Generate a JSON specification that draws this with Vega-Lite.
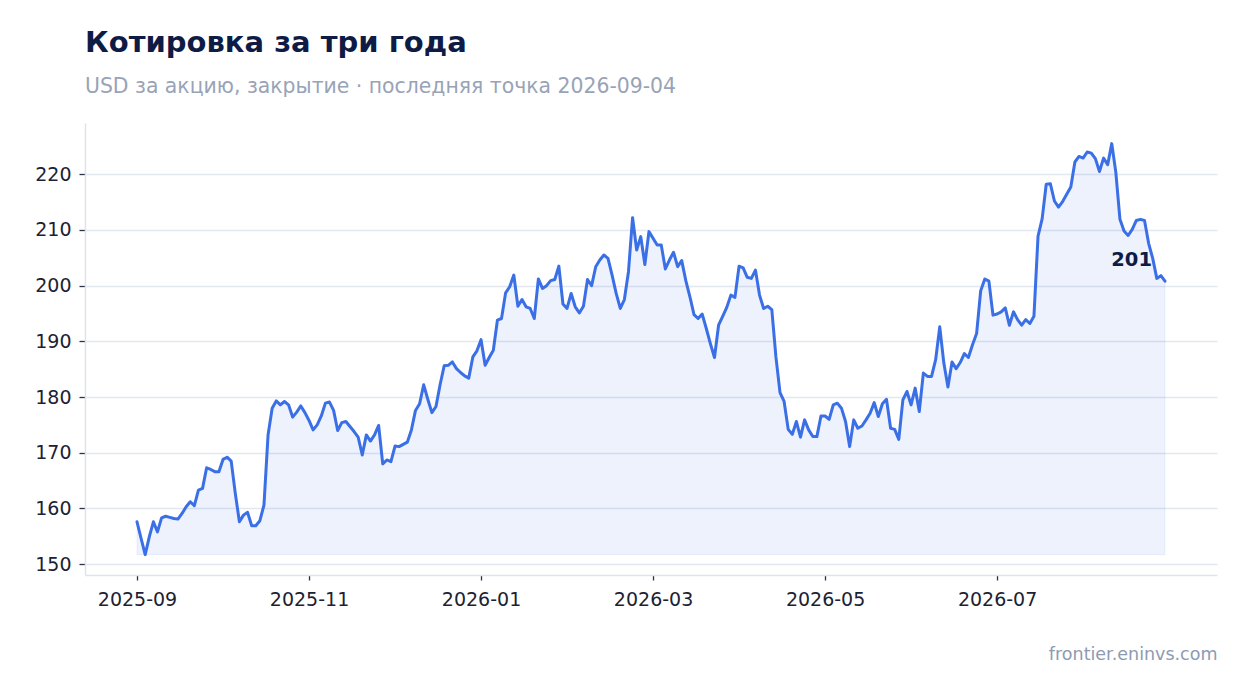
{
  "$schema": "https://vega.github.io/schema/vega-lite/v6.json",
  "width": 1132,
  "height": 452,
  "autosize": {"type": "none"},
  "padding": {"left": 85, "top": 123, "right": 30, "bottom": 118},
  "background": "white",
  "title": {
    "text": "Котировка за три года",
    "subtitle": "USD за акцию, закрытие · последняя точка 2026-09-04",
    "anchor": "start",
    "frame": "group",
    "font": "DejaVu Sans",
    "fontSize": 29,
    "fontWeight": "bold",
    "color": "#0e1c45",
    "subtitleFont": "DejaVu Sans",
    "subtitleFontSize": 20.4,
    "subtitleColor": "#98a3b7",
    "subtitlePadding": 19.5,
    "offset": 25.4
  },
  "config": {"view": {"stroke": null}, "font": "DejaVu Sans"},
  "datasets": {"prices": [
    {"date": "2025-09-18", "close": 157.6}, {"date": "2025-09-19", "close": 154.6}, {"date": "2025-09-22", "close": 151.7}, {"date": "2025-09-23", "close": 154.9}, {"date": "2025-09-24", "close": 157.6}, {"date": "2025-09-25", "close": 155.8}, {"date": "2025-09-26", "close": 158.3}, {"date": "2025-09-29", "close": 158.6}, {"date": "2025-09-30", "close": 158.4},
    {"date": "2025-10-01", "close": 158.2}, {"date": "2025-10-02", "close": 158.1}, {"date": "2025-10-03", "close": 159.1}, {"date": "2025-10-06", "close": 160.3}, {"date": "2025-10-07", "close": 161.2}, {"date": "2025-10-08", "close": 160.5}, {"date": "2025-10-09", "close": 163.3}, {"date": "2025-10-10", "close": 163.6}, {"date": "2025-10-13", "close": 167.3}, {"date": "2025-10-14", "close": 167.0}, {"date": "2025-10-15", "close": 166.6}, {"date": "2025-10-16", "close": 166.6}, {"date": "2025-10-17", "close": 168.8}, {"date": "2025-10-20", "close": 169.2}, {"date": "2025-10-21", "close": 168.5}, {"date": "2025-10-22", "close": 162.7}, {"date": "2025-10-23", "close": 157.6}, {"date": "2025-10-24", "close": 158.8}, {"date": "2025-10-27", "close": 159.3}, {"date": "2025-10-28", "close": 156.9}, {"date": "2025-10-29", "close": 156.9}, {"date": "2025-10-30", "close": 157.8}, {"date": "2025-10-31", "close": 160.6},
    {"date": "2025-11-03", "close": 173.2}, {"date": "2025-11-04", "close": 178.0}, {"date": "2025-11-05", "close": 179.3}, {"date": "2025-11-06", "close": 178.6}, {"date": "2025-11-07", "close": 179.2}, {"date": "2025-11-10", "close": 178.6}, {"date": "2025-11-11", "close": 176.4}, {"date": "2025-11-12", "close": 177.3}, {"date": "2025-11-13", "close": 178.4}, {"date": "2025-11-14", "close": 177.2}, {"date": "2025-11-17", "close": 175.8}, {"date": "2025-11-18", "close": 174.1}, {"date": "2025-11-19", "close": 175.0}, {"date": "2025-11-20", "close": 176.6}, {"date": "2025-11-21", "close": 178.9}, {"date": "2025-11-24", "close": 179.1}, {"date": "2025-11-25", "close": 177.6}, {"date": "2025-11-26", "close": 174.0}, {"date": "2025-11-27", "close": 175.4}, {"date": "2025-11-28", "close": 175.6},
    {"date": "2025-12-01", "close": 174.7}, {"date": "2025-12-02", "close": 173.8}, {"date": "2025-12-03", "close": 172.8}, {"date": "2025-12-04", "close": 169.6}, {"date": "2025-12-05", "close": 173.2}, {"date": "2025-12-08", "close": 172.1}, {"date": "2025-12-09", "close": 173.2}, {"date": "2025-12-10", "close": 174.9}, {"date": "2025-12-11", "close": 168.0}, {"date": "2025-12-12", "close": 168.7}, {"date": "2025-12-15", "close": 168.4}, {"date": "2025-12-16", "close": 171.2}, {"date": "2025-12-17", "close": 171.1}, {"date": "2025-12-18", "close": 171.5}, {"date": "2025-12-19", "close": 171.9}, {"date": "2025-12-22", "close": 174.1}, {"date": "2025-12-23", "close": 177.6}, {"date": "2025-12-24", "close": 178.8}, {"date": "2025-12-25", "close": 182.2}, {"date": "2025-12-26", "close": 179.6}, {"date": "2025-12-29", "close": 177.2}, {"date": "2025-12-30", "close": 178.3}, {"date": "2025-12-31", "close": 182.2},
    {"date": "2026-01-01", "close": 185.6}, {"date": "2026-01-02", "close": 185.7}, {"date": "2026-01-05", "close": 186.3}, {"date": "2026-01-06", "close": 185.1}, {"date": "2026-01-07", "close": 184.4}, {"date": "2026-01-08", "close": 183.8}, {"date": "2026-01-09", "close": 183.4}, {"date": "2026-01-12", "close": 187.2}, {"date": "2026-01-13", "close": 188.3}, {"date": "2026-01-14", "close": 190.3}, {"date": "2026-01-15", "close": 185.7}, {"date": "2026-01-16", "close": 187.1}, {"date": "2026-01-19", "close": 188.4}, {"date": "2026-01-20", "close": 193.8}, {"date": "2026-01-21", "close": 194.1}, {"date": "2026-01-22", "close": 198.7}, {"date": "2026-01-23", "close": 199.8}, {"date": "2026-01-26", "close": 201.9}, {"date": "2026-01-27", "close": 196.3}, {"date": "2026-01-28", "close": 197.5}, {"date": "2026-01-29", "close": 196.2}, {"date": "2026-01-30", "close": 195.9},
    {"date": "2026-02-02", "close": 194.1}, {"date": "2026-02-03", "close": 201.2}, {"date": "2026-02-04", "close": 199.5}, {"date": "2026-02-05", "close": 200.0}, {"date": "2026-02-06", "close": 200.9}, {"date": "2026-02-09", "close": 201.1}, {"date": "2026-02-10", "close": 203.5}, {"date": "2026-02-11", "close": 196.7}, {"date": "2026-02-12", "close": 195.9}, {"date": "2026-02-13", "close": 198.6}, {"date": "2026-02-16", "close": 196.2}, {"date": "2026-02-17", "close": 195.1}, {"date": "2026-02-18", "close": 196.3}, {"date": "2026-02-19", "close": 201.1}, {"date": "2026-02-20", "close": 200.0}, {"date": "2026-02-23", "close": 203.4}, {"date": "2026-02-24", "close": 204.6}, {"date": "2026-02-25", "close": 205.5}, {"date": "2026-02-26", "close": 204.9}, {"date": "2026-02-27", "close": 201.9},
    {"date": "2026-03-02", "close": 198.6}, {"date": "2026-03-03", "close": 195.9}, {"date": "2026-03-04", "close": 197.5}, {"date": "2026-03-05", "close": 202.5}, {"date": "2026-03-06", "close": 212.2}, {"date": "2026-03-09", "close": 206.4}, {"date": "2026-03-10", "close": 208.8}, {"date": "2026-03-11", "close": 203.8}, {"date": "2026-03-12", "close": 209.7}, {"date": "2026-03-13", "close": 208.5}, {"date": "2026-03-16", "close": 207.3}, {"date": "2026-03-17", "close": 207.3}, {"date": "2026-03-18", "close": 203.0}, {"date": "2026-03-19", "close": 204.6}, {"date": "2026-03-20", "close": 206.0}, {"date": "2026-03-23", "close": 203.4}, {"date": "2026-03-24", "close": 204.5}, {"date": "2026-03-25", "close": 200.9}, {"date": "2026-03-26", "close": 198.0}, {"date": "2026-03-27", "close": 194.8}, {"date": "2026-03-30", "close": 194.1}, {"date": "2026-03-31", "close": 194.9},
    {"date": "2026-04-01", "close": 192.3}, {"date": "2026-04-02", "close": 189.6}, {"date": "2026-04-03", "close": 187.1}, {"date": "2026-04-06", "close": 192.9}, {"date": "2026-04-07", "close": 194.5}, {"date": "2026-04-08", "close": 196.1}, {"date": "2026-04-09", "close": 198.3}, {"date": "2026-04-10", "close": 197.9}, {"date": "2026-04-13", "close": 203.5}, {"date": "2026-04-14", "close": 203.2}, {"date": "2026-04-15", "close": 201.5}, {"date": "2026-04-16", "close": 201.3}, {"date": "2026-04-17", "close": 202.8}, {"date": "2026-04-20", "close": 198.3}, {"date": "2026-04-21", "close": 195.9}, {"date": "2026-04-22", "close": 196.3}, {"date": "2026-04-23", "close": 195.7}, {"date": "2026-04-24", "close": 187.2}, {"date": "2026-04-27", "close": 180.8}, {"date": "2026-04-28", "close": 179.2}, {"date": "2026-04-29", "close": 174.2}, {"date": "2026-04-30", "close": 173.3},
    {"date": "2026-05-01", "close": 175.6}, {"date": "2026-05-04", "close": 172.8}, {"date": "2026-05-05", "close": 175.9}, {"date": "2026-05-06", "close": 174.1}, {"date": "2026-05-07", "close": 172.9}, {"date": "2026-05-08", "close": 172.9}, {"date": "2026-05-11", "close": 176.6}, {"date": "2026-05-12", "close": 176.6}, {"date": "2026-05-13", "close": 176.0}, {"date": "2026-05-14", "close": 178.6}, {"date": "2026-05-15", "close": 178.9}, {"date": "2026-05-18", "close": 178.0}, {"date": "2026-05-19", "close": 175.6}, {"date": "2026-05-20", "close": 171.1}, {"date": "2026-05-21", "close": 175.9}, {"date": "2026-05-22", "close": 174.4}, {"date": "2026-05-25", "close": 174.8}, {"date": "2026-05-26", "close": 175.9}, {"date": "2026-05-27", "close": 177.1}, {"date": "2026-05-28", "close": 179.0}, {"date": "2026-05-29", "close": 176.5},
    {"date": "2026-06-01", "close": 178.8}, {"date": "2026-06-02", "close": 179.6}, {"date": "2026-06-03", "close": 174.4}, {"date": "2026-06-04", "close": 174.2}, {"date": "2026-06-05", "close": 172.4}, {"date": "2026-06-08", "close": 179.5}, {"date": "2026-06-09", "close": 181.0}, {"date": "2026-06-10", "close": 178.6}, {"date": "2026-06-11", "close": 181.6}, {"date": "2026-06-12", "close": 177.4}, {"date": "2026-06-15", "close": 184.3}, {"date": "2026-06-16", "close": 183.7}, {"date": "2026-06-17", "close": 183.7}, {"date": "2026-06-18", "close": 186.7}, {"date": "2026-06-19", "close": 192.6}, {"date": "2026-06-22", "close": 186.1}, {"date": "2026-06-23", "close": 181.8}, {"date": "2026-06-24", "close": 186.3}, {"date": "2026-06-25", "close": 185.1}, {"date": "2026-06-26", "close": 186.2}, {"date": "2026-06-29", "close": 187.8}, {"date": "2026-06-30", "close": 187.1},
    {"date": "2026-07-01", "close": 189.4}, {"date": "2026-07-02", "close": 191.4}, {"date": "2026-07-03", "close": 199.1}, {"date": "2026-07-06", "close": 201.2}, {"date": "2026-07-07", "close": 200.8}, {"date": "2026-07-08", "close": 194.7}, {"date": "2026-07-09", "close": 194.9}, {"date": "2026-07-10", "close": 195.3}, {"date": "2026-07-13", "close": 196.0}, {"date": "2026-07-14", "close": 192.9}, {"date": "2026-07-15", "close": 195.3}, {"date": "2026-07-16", "close": 193.9}, {"date": "2026-07-17", "close": 192.9}, {"date": "2026-07-20", "close": 193.9}, {"date": "2026-07-21", "close": 193.2}, {"date": "2026-07-22", "close": 194.5}, {"date": "2026-07-23", "close": 208.9}, {"date": "2026-07-24", "close": 212.0}, {"date": "2026-07-27", "close": 218.2}, {"date": "2026-07-28", "close": 218.3}, {"date": "2026-07-29", "close": 215.2}, {"date": "2026-07-30", "close": 214.1}, {"date": "2026-07-31", "close": 215.1},
    {"date": "2026-08-03", "close": 216.4}, {"date": "2026-08-04", "close": 217.7}, {"date": "2026-08-05", "close": 222.2}, {"date": "2026-08-06", "close": 223.2}, {"date": "2026-08-07", "close": 222.9}, {"date": "2026-08-10", "close": 224.0}, {"date": "2026-08-11", "close": 223.8}, {"date": "2026-08-12", "close": 222.8}, {"date": "2026-08-13", "close": 220.5}, {"date": "2026-08-14", "close": 222.9}, {"date": "2026-08-17", "close": 221.7}, {"date": "2026-08-18", "close": 225.5}, {"date": "2026-08-19", "close": 220.3}, {"date": "2026-08-20", "close": 211.9}, {"date": "2026-08-21", "close": 209.8}, {"date": "2026-08-24", "close": 209.0}, {"date": "2026-08-25", "close": 210.1}, {"date": "2026-08-26", "close": 211.7}, {"date": "2026-08-27", "close": 211.9}, {"date": "2026-08-28", "close": 211.7}, {"date": "2026-08-31", "close": 207.6},
    {"date": "2026-09-01", "close": 204.9}, {"date": "2026-09-02", "close": 201.3}, {"date": "2026-09-03", "close": 201.8}, {"date": "2026-09-04", "close": 200.8}
  ]},
  "data": {"name": "prices"},
  "transform": [
    {"window": [{"op": "row_number", "as": "n"}], "sort": [{"field": "date", "order": "ascending"}]},
    {"joinaggregate": [{"op": "min", "field": "close", "as": "lo"}, {"op": "max", "field": "n", "as": "last"}]}
  ],
  "encoding": {
    "x": {
      "field": "n",
      "type": "quantitative",
      "scale": {"domain": [1, 252], "padding": 52, "nice": false, "zero": false},
      "axis": {
        "values": [1, 43, 85, 127, 169, 211],
        "labelExpr": "slice(data('prices')[datum.value - 1].date, 0, 7)",
        "labelAngle": 0,
        "labelFont": "DejaVu Sans",
        "labelFontSize": 19,
        "labelColor": "#1c2233",
        "labelPadding": 10,
        "tickSize": 5,
        "tickColor": "#2b3245",
        "tickWidth": 1.3,
        "domainColor": "#dfe3ea",
        "domainWidth": 1.5,
        "grid": false,
        "title": "frontier.eninvs.com",
        "titleAnchor": "end",
        "titleAlign": "right",
        "titleFont": "DejaVu Sans",
        "titleFontSize": 17.5,
        "titleFontWeight": "normal",
        "titleColor": "#8e9ab0",
        "titlePadding": 36
      }
    },
    "y": {
      "field": "close",
      "type": "quantitative",
      "scale": {"domain": [148.05, 229.2], "nice": false, "zero": false},
      "axis": {
        "values": [150, 160, 170, 180, 190, 200, 210, 220],
        "title": null,
        "labelFont": "DejaVu Sans",
        "labelFontSize": 19,
        "labelColor": "#1c2233",
        "labelPadding": 8,
        "tickSize": 6,
        "tickColor": "#2b3245",
        "tickWidth": 1.3,
        "domainColor": "#dfe3ea",
        "domainWidth": 1.5,
        "gridColor": "#e3e7ef",
        "gridWidth": 1.5
      }
    }
  },
  "layer": [
    {
      "mark": {"type": "area", "fill": "#3a6fe6", "fillOpacity": 0.09, "stroke": "#3a6fe6", "strokeOpacity": 0.07, "strokeWidth": 1.2},
      "encoding": {"y2": {"field": "lo"}}
    },
    {
      "mark": {"type": "line", "color": "#3a6fe6", "strokeWidth": 3, "strokeJoin": "round", "strokeCap": "round"}
    },
    {
      "transform": [{"filter": "datum.n == datum.last"}],
      "mark": {"type": "text", "align": "right", "baseline": "alphabetic", "dx": -13, "dy": -15, "font": "DejaVu Sans", "fontSize": 19.5, "fontWeight": "bold", "color": "#0e1c45"},
      "encoding": {"text": {"field": "close", "type": "quantitative", "format": ".0f"}}
    }
  ]
}
